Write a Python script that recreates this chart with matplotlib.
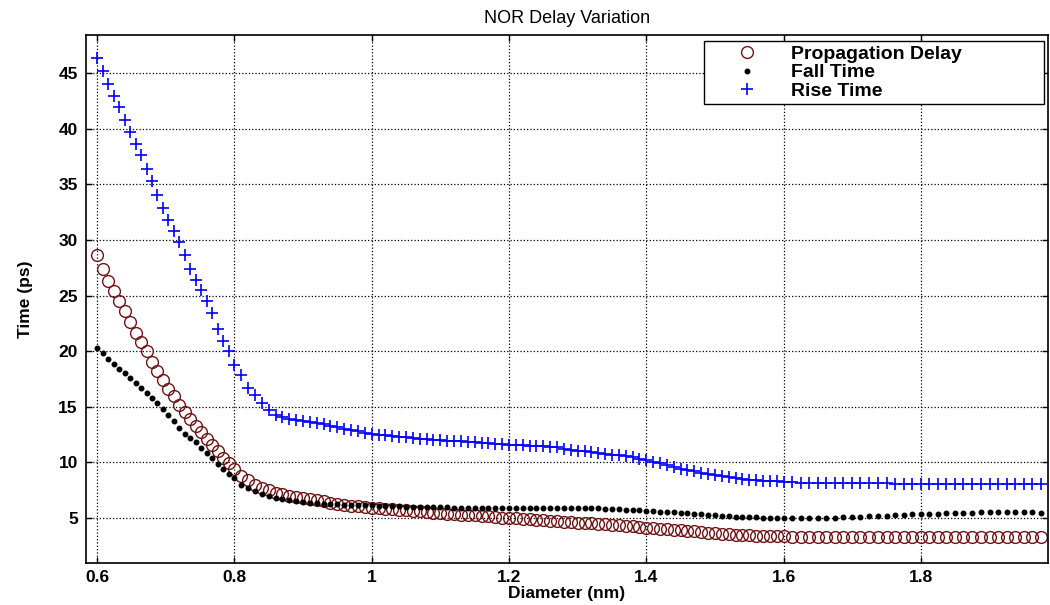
import matplotlib
matplotlib.use("Agg")
import matplotlib.pyplot as plt

plt.rcParams['font.family'] = ['Liberation Sans', 'DejaVu Sans']

# diameter values (nm)
diameter = [0.600, 0.608, 0.616, 0.624, 0.632, 0.640, 0.648, 0.656, 0.664, 0.672,
            0.680, 0.688, 0.696, 0.704, 0.712, 0.720, 0.728, 0.736, 0.744, 0.752,
            0.760, 0.768, 0.776, 0.784, 0.792, 0.800,
            0.81, 0.82, 0.83, 0.84, 0.85, 0.86, 0.87, 0.88, 0.89, 0.90,
            0.91, 0.92, 0.93, 0.94, 0.95, 0.96, 0.97, 0.98, 0.99, 1.00,
            1.01, 1.02, 1.03, 1.04, 1.05, 1.06, 1.07, 1.08, 1.09, 1.10,
            1.11, 1.12, 1.13, 1.14, 1.15, 1.16, 1.17, 1.18, 1.19, 1.20,
            1.21, 1.22, 1.23, 1.24, 1.25, 1.26, 1.27, 1.28, 1.29, 1.30,
            1.31, 1.32, 1.33, 1.34, 1.35, 1.36, 1.37, 1.38, 1.39, 1.40,
            1.41, 1.42, 1.43, 1.44, 1.45, 1.46, 1.47, 1.48, 1.49, 1.50,
            1.51, 1.52, 1.53, 1.54, 1.55, 1.56, 1.57, 1.58, 1.59, 1.60,
            1.612, 1.625, 1.637, 1.650, 1.662, 1.675, 1.687, 1.700, 1.712, 1.725,
            1.737, 1.750, 1.762, 1.775, 1.787, 1.800, 1.812, 1.825, 1.837, 1.850,
            1.862, 1.875, 1.887, 1.900, 1.912, 1.925, 1.937, 1.950, 1.962, 1.975]

# propagation delay (ps)
prop_delay = [28.6, 27.4, 26.3, 25.4, 24.5, 23.6, 22.6, 21.6, 20.8, 20.0,
              19.0, 18.2, 17.4, 16.6, 16.0, 15.2, 14.5, 13.9, 13.3, 12.75,
              12.1, 11.6, 11.0, 10.4, 9.95, 9.45,
              8.8, 8.4, 8.0, 7.7, 7.5, 7.3, 7.15, 7.0, 6.9, 6.8,
              6.7, 6.6, 6.5, 6.4, 6.3, 6.2, 6.1, 6.05, 6.0, 5.95,
              5.9, 5.85, 5.8, 5.75, 5.7, 5.65, 5.6, 5.55, 5.5, 5.45,
              5.4, 5.35, 5.3, 5.28, 5.25, 5.2, 5.15, 5.1, 5.05, 5.0,
              4.98, 4.95, 4.9, 4.85, 4.8, 4.75, 4.72, 4.68, 4.65, 4.6,
              4.57, 4.53, 4.5, 4.45, 4.4, 4.35, 4.3, 4.25, 4.2, 4.15,
              4.08, 4.02, 3.98, 3.95, 3.9, 3.85, 3.8, 3.75, 3.7, 3.65,
              3.6, 3.55, 3.52, 3.5, 3.47, 3.43, 3.4, 3.38, 3.36, 3.35,
              3.33, 3.32, 3.3, 3.3, 3.3, 3.3, 3.3, 3.3, 3.3, 3.3,
              3.3, 3.3, 3.3, 3.3, 3.3, 3.3, 3.3, 3.3, 3.3, 3.3,
              3.3, 3.3, 3.3, 3.3, 3.3, 3.3, 3.3, 3.3, 3.3, 3.3]

# fall time (ps)
fall_time = [20.3, 19.8, 19.3, 18.85, 18.4, 18.0, 17.6, 17.1, 16.65, 16.2,
             15.75, 15.3, 14.8, 14.3, 13.7, 13.1, 12.6, 12.2, 11.8, 11.3,
             10.85, 10.4, 9.9, 9.4, 8.95, 8.6,
             8.0, 7.7, 7.4, 7.2, 7.0, 6.85, 6.75, 6.65, 6.55, 6.45,
             6.4, 6.35, 6.3, 6.28, 6.25, 6.22, 6.2, 6.2, 6.18, 6.15,
             6.12, 6.1, 6.08, 6.05, 6.03, 6.0, 6.0, 5.98, 5.98, 5.97,
             5.96, 5.95, 5.95, 5.95, 5.95, 5.95, 5.95, 5.95, 5.95, 5.95,
             5.94, 5.94, 5.93, 5.93, 5.92, 5.92, 5.92, 5.91, 5.91, 5.9,
             5.9, 5.9, 5.88, 5.85, 5.82, 5.8, 5.77, 5.73, 5.7, 5.66,
             5.62, 5.58, 5.55, 5.52, 5.48, 5.43, 5.38, 5.34, 5.3, 5.25,
             5.2, 5.16, 5.12, 5.1, 5.08, 5.06, 5.05, 5.03, 5.02, 5.0,
             5.0, 5.0, 5.0, 5.02, 5.03, 5.05, 5.07, 5.1, 5.13, 5.17,
             5.2, 5.23, 5.27, 5.3, 5.33, 5.36, 5.38, 5.4, 5.43, 5.45,
             5.48, 5.5, 5.52, 5.55, 5.55, 5.55, 5.55, 5.53, 5.52, 5.5]

# rise time (ps)
rise_time = [46.3, 45.2, 44.0, 42.9, 41.9, 40.8, 39.7, 38.6, 37.6, 36.4,
             35.3, 34.0, 32.9, 31.8, 30.8, 29.8, 28.6, 27.4, 26.4, 25.5,
             24.5, 23.4, 22.0, 20.9, 20.0, 18.8,
             17.9, 16.7, 16.1, 15.3, 14.7, 14.3, 14.1, 13.95, 13.85, 13.75,
             13.65, 13.55, 13.45, 13.3, 13.15, 13.0, 12.9, 12.8, 12.65, 12.55,
             12.5, 12.45, 12.4, 12.3, 12.25, 12.2, 12.15, 12.1, 12.05, 12.0,
             11.95, 11.9, 11.9, 11.85, 11.8, 11.75, 11.75, 11.7, 11.65, 11.6,
             11.6, 11.55, 11.5, 11.5, 11.45, 11.4, 11.35, 11.25, 11.15, 11.05,
             11.0, 10.9, 10.85, 10.8, 10.7, 10.65, 10.55, 10.45, 10.35, 10.2,
             10.05, 9.95, 9.8, 9.6, 9.45, 9.3, 9.2, 9.05, 8.95, 8.9,
             8.8, 8.7, 8.6, 8.5, 8.45, 8.4, 8.35, 8.3, 8.3, 8.25,
             8.25, 8.2, 8.2, 8.2, 8.2, 8.2, 8.15, 8.15, 8.15, 8.15,
             8.15, 8.15, 8.1, 8.1, 8.1, 8.1, 8.1, 8.1, 8.1, 8.1,
             8.1, 8.05, 8.05, 8.05, 8.05, 8.1, 8.1, 8.1, 8.1, 8.1]

xticks = [0.6, 0.8, 1, 1.2, 1.4, 1.6, 1.8]
xticklabels = ['0.6', '0.8', '1', '1.2', '1.4', '1.6', '1.8']
yticks = [5, 10, 15, 20, 25, 30, 35, 40, 45]


fig = plt.figure(figsize=(10.5, 6.05), dpi=100)
ax = fig.add_axes([0.082, 0.070, 0.916, 0.872])

ax.plot(diameter, prop_delay, linestyle='none', marker='o', ms=8.5,
        mfc='none', mec='#6e1414', mew=1.0, label='Propagation Delay')
ax.plot(diameter, fall_time, linestyle='none', marker='.', ms=6.5,
        color='black', label='Fall Time')
ax.plot(diameter, rise_time, linestyle='none', marker='+', ms=9,
        mew=1.2, color='#0000ff', label='Rise Time')

ax.set_xlim(0.584, 1.985)
ax.set_ylim(1.0, 48.4)
ax.set_xticks(xticks)
ax.set_xticklabels(xticklabels)
ax.set_yticks(yticks)

ax.grid(True, linestyle=':', color='black', linewidth=0.9)
ax.tick_params(direction='in', length=4, width=1, labelsize=12.5,
               top=True, right=True)
ax.tick_params(axis='y', pad=6)
ax.tick_params(axis='x', pad=5)
for lbl in ax.get_xticklabels() + ax.get_yticklabels():
    lbl.set_fontweight('bold')
for sp in ax.spines.values():
    sp.set_linewidth(1.2)

ax.set_title('NOR Delay Variation', fontsize=13, pad=9)
ax.set_xlabel('Diameter (nm)', fontsize=12.5, fontweight='bold', labelpad=1)
ax.set_ylabel('Time (ps)', fontsize=12.5, fontweight='bold', labelpad=18)

# legend box spans roughly the same area as in the original figure
leg = ax.legend(loc='upper left', bbox_to_anchor=(0.642, 0.989, 0.354, 0.0),
                mode='expand', borderaxespad=0.0, fancybox=False,
                framealpha=1, edgecolor='black',
                prop={'weight': 'bold', 'size': 14},
                handletextpad=0.3, labelspacing=0.05, handlelength=4.0,
                borderpad=0.22)
leg.get_frame().set_linewidth(1.0)

plt.savefig('out.png', dpi=100)
